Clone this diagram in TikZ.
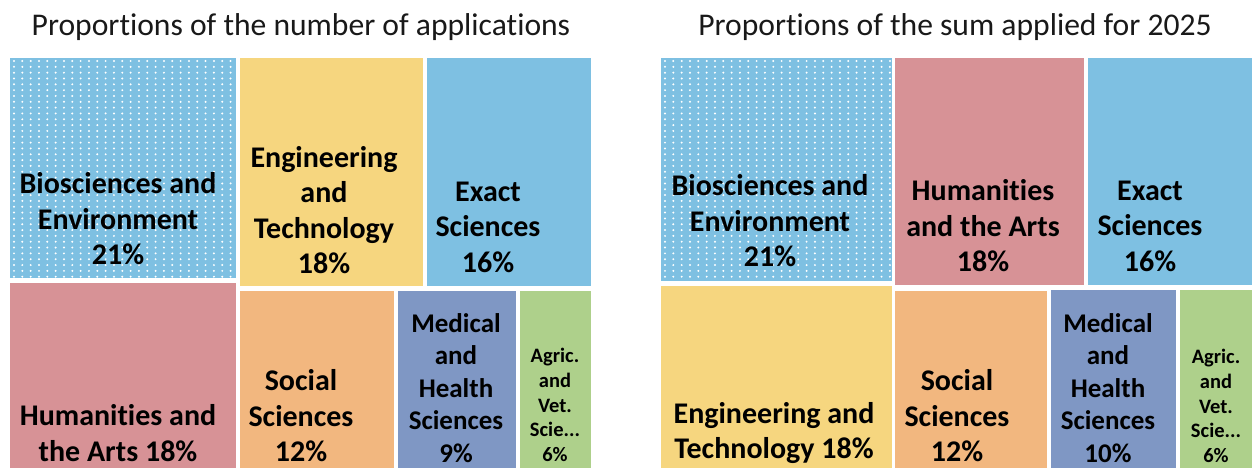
\documentclass[tikz,border=0pt]{standalone}
\usepackage{fontspec}
\setmainfont{Carlito}[Ligatures=NoCommon,Contextuals=NoAlternate]
\definecolor{cblue}{RGB}{126,192,226}
\definecolor{cyellow}{RGB}{246,214,127}
\definecolor{cpink}{RGB}{215,146,150}
\definecolor{corange}{RGB}{242,183,127}
\definecolor{cmed}{RGB}{127,151,196}
\definecolor{cgreen}{RGB}{174,208,139}
\tikzset{
  lbl/.style={font=\bfseries\fontsize{30}{35.5}\selectfont, align=center, inner sep=0pt},
  lblm/.style={font=\bfseries\fontsize{27}{32.5}\selectfont, align=center, inner sep=0pt},
  lbls/.style={font=\bfseries\fontsize{20.5}{24.75}\selectfont, align=center, inner sep=0pt},
  ttl/.style={font=\fontsize{31.6}{38}\selectfont, inner sep=0pt, anchor=base, text=black!90},
  dot/.style={fill=white, draw=none}
}
\newcommand{\mydotgrid}[4]{%
  \begin{scope}
    \clip (#1,#2) rectangle (#3,#4);
    \foreach \i in {0,...,28}{
      \foreach \j in {0,...,39}{
        \fill[dot] ({#1+4+8.33*\i},{#2+3+5.83*\j}) circle (1.1);
      }
    }
  \end{scope}}
\begin{document}
\begin{tikzpicture}[x=1pt,y=-1pt]
\useasboundingbox (0,0) rectangle (1254,468);
\fill[white] (0,0) rectangle (1254,468);
\clip (0,0) rectangle (1254,468);
% ---- left chart
\fill[cblue]   (10,58) rectangle (236,278);
\mydotgrid{10}{58}{236}{278}
\fill[cpink]   (10,283) rectangle (236,470);
\fill[cyellow] (240,58) rectangle (423,286);
\fill[cblue]   (427,58) rectangle (591,286);
\fill[corange] (240,291) rectangle (394,470);
\fill[cmed]    (398,291) rectangle (516,470);
\fill[cgreen]  (520,291) rectangle (591,470);
% ---- right chart
\fill[cblue]   (661,58) rectangle (892,281);
\mydotgrid{661}{58}{892}{281}
\fill[cyellow] (661,286) rectangle (892,470);
\fill[cpink]   (895,58) rectangle (1084,285);
\fill[cblue]   (1088,58) rectangle (1252,285);
\fill[corange] (895,291) rectangle (1047,470);
\fill[cmed]    (1051,290) rectangle (1176,470);
\fill[cgreen]  (1180,290) rectangle (1252,470);
% ---- titles
\node[ttl] (t1) at (301,36) {Proportions of the number of applications};
\node[ttl] (t2) at (955,36) {Proportions of the sum applied for 2025};
% ---- left labels
\node[lbl]  (lbio) at (118,219) {Biosciences and\\Environment\\21\%};
\node[lbl]  (leng) at (324,210) {Engineering\\and\\Technology\\18\%};
\node[lbl]  (lexa) at (488,227) {Exact\\Sciences\\16\%};
\node[lbl]  (lhum) at (118,433) {Humanities and\\the Arts 18\%};
\node[lbl]  (lsoc) at (301,416) {Social\\Sciences\\12\%};
\node[lblm] (lmed) at (456,388) {Medical\\and\\Health\\Sciences\\9\%};
\node[lbls] (lagr) at (555,405) {Agric.\\and\\Vet.\\Scie...\\6\%};
% ---- right labels
\node[lbl]  (rbio) at (770,221) {Biosciences and\\Environment\\21\%};
\node[lbl]  (rhum) at (983,226) {Humanities\\and the Arts\\18\%};
\node[lbl]  (rexa) at (1150,226) {Exact\\Sciences\\16\%};
\node[lbl]  (reng) at (774,433) {Engineering and\\Technology 18\%};
\node[lbl]  (rsoc) at (957,416) {Social\\Sciences\\12\%};
\node[lblm] (rmed) at (1108,388) {Medical\\and\\Health\\Sciences\\10\%};
\node[lbls] (ragr) at (1216,406) {Agric.\\and\\Vet.\\Scie...\\6\%};
\end{tikzpicture}
\end{document}
